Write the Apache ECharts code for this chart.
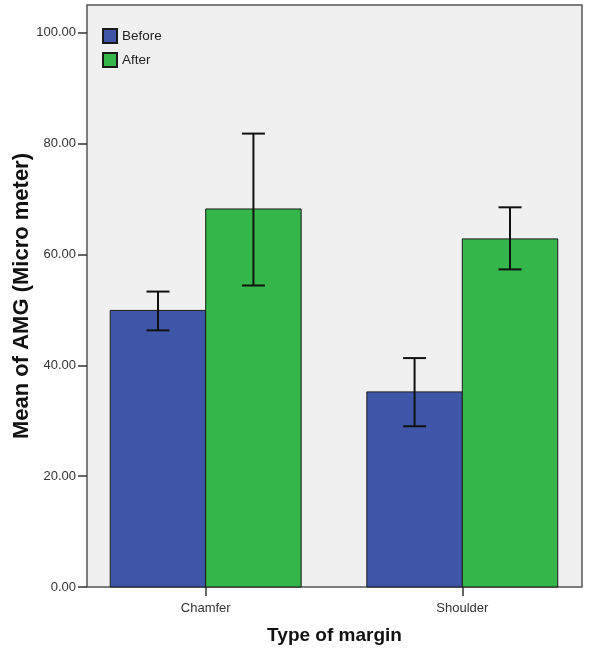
<!DOCTYPE html>
<html>
<head>
<meta charset="utf-8">
<script src="https://cdn.jsdelivr.net/npm/echarts@6/dist/echarts.min.js"></script>
<style>html,body{margin:0;padding:0;background:#fff;}#c{width:600px;height:650px;}</style>
</head>
<body>
<div id="c"></div>
<script>
var categories = ['Chamfer', 'Shoulder'];
var beforeMean = [49.9, 35.2];
var beforeLow = [46.3, 29.0];
var beforeHigh = [53.3, 41.3];
var afterMean = [68.2, 62.8];
var afterLow = [54.4, 57.3];
var afterHigh = [81.8, 68.5];
var yTicks = [0, 20, 40, 60, 80, 100];

var BAR_W = 0.372;
var BLUE = '#3f56a8';
var GREEN = '#35b64a';

function barSeries(name, means, lows, highs, side, color) {
  var data = means.map(function (m, i) { return [i, m, lows[i], highs[i]]; });
  return {
    type: 'custom',
    name: name,
    coordinateSystem: 'cartesian2d',
    itemStyle: { color: color, borderColor: '#1a1a1a', borderWidth: 1 },
    encode: { x: 0, y: [1, 2, 3] },
    data: data,
    renderItem: function (params, api) {
      var x = api.value(0);
      var x0 = side < 0 ? x - BAR_W : x;
      var x1 = side < 0 ? x : x + BAR_W;
      var cx = (x0 + x1) / 2;
      var pTop = api.coord([x0, api.value(1)]);
      var pBase = api.coord([x1, 0]);
      var eHi = api.coord([cx, api.value(3)]);
      var eLo = api.coord([cx, api.value(2)]);
      var cap = 11.5;
      return {
        type: 'group',
        children: [
          { type: 'rect', shape: { x: pTop[0], y: pTop[1], width: pBase[0] - pTop[0], height: pBase[1] - pTop[1] },
            style: { fill: color, stroke: '#1a1a1a', lineWidth: 1 } },
          { type: 'line', shape: { x1: eHi[0], y1: eHi[1], x2: eLo[0], y2: eLo[1] }, style: { stroke: '#111', lineWidth: 2 } },
          { type: 'line', shape: { x1: eHi[0] - cap, y1: eHi[1], x2: eHi[0] + cap, y2: eHi[1] }, style: { stroke: '#111', lineWidth: 2 } },
          { type: 'line', shape: { x1: eLo[0] - cap, y1: eLo[1], x2: eLo[0] + cap, y2: eLo[1] }, style: { stroke: '#111', lineWidth: 2 } }
        ]
      };
    }
  };
}

var chart = echarts.init(document.getElementById('c'), null, { renderer: 'canvas' });
chart.setOption({
  animation: false,
  backgroundColor: '#ffffff',
  textStyle: { fontFamily: 'Liberation Sans, Arial, sans-serif' },
  grid: { left: 87, right: 18, top: 5, bottom: 63, outerBoundsMode: 'none', containLabel: false,
          show: true, backgroundColor: '#f0f0f0', borderColor: '#555', borderWidth: 1.5 },
  legend: {
    orient: 'vertical', left: 97, top: 23, itemWidth: 14, itemHeight: 14, itemGap: 8,
    icon: 'rect',
    textStyle: { fontSize: 13.5, color: '#222', fontFamily: 'Liberation Sans, Arial, sans-serif' },
    data: ['Before', 'After']
  },
  xAxis: {
    type: 'value', min: -0.4626, max: 1.4665,
    name: 'Type of margin', nameLocation: 'middle', nameGap: 39, nameMoveOverlap: false,
    nameTextStyle: { fontSize: 19, fontWeight: 'bold', color: '#111' },
    splitLine: { show: false },
    axisLine: { show: false, onZero: false },
    axisTick: { show: true, length: 9, lineStyle: { color: '#333', width: 1.5 }, customValues: [0, 1] },
    axisLabel: { customValues: [0, 1], fontSize: 13, color: '#333', margin: 15,
      formatter: function (v) { return categories[Math.round(v)]; } }
  },
  yAxis: {
    type: 'value', min: 0, max: 105,
    name: 'Mean of AMG (Micro meter)', nameLocation: 'middle', nameGap: 54, nameMoveOverlap: false,
    nameTextStyle: { fontSize: 22, fontWeight: 'bold', color: '#111' },
    splitLine: { show: false },
    axisLine: { show: false, onZero: false },
    axisTick: { show: true, length: 9, lineStyle: { color: '#333', width: 1.5 }, customValues: yTicks },
    axisLabel: { customValues: yTicks, fontSize: 13, color: '#333', margin: 11,
      formatter: function (v) { return v.toFixed(2); } }
  },
  series: [
    barSeries('Before', beforeMean, beforeLow, beforeHigh, -1, BLUE),
    barSeries('After', afterMean, afterLow, afterHigh, 1, GREEN)
  ]
});
</script>
</body>
</html>
